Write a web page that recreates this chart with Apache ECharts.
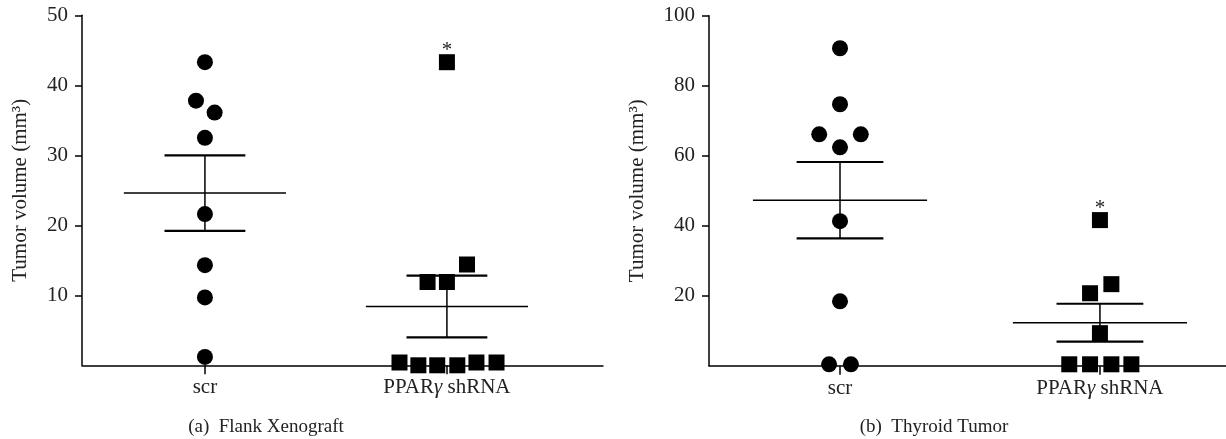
<!DOCTYPE html>
<html>
<head>
<meta charset="utf-8">
<script src="https://cdn.jsdelivr.net/npm/echarts@6/dist/echarts.min.js"></script>
<style>
html,body{margin:0;padding:0;background:#fff;}
#c{width:1226px;height:439px;}
</style>
</head>
<body>
<div id="c"></div>
<script>
// ---------- data ----------
const categories = ['scr', 'PPARγ shRNA'];
const yTitle = 'Tumor volume (mm³)';
const captions = ['(a)  Flank Xenograft', '(b)  Thyroid Tumor'];

// Panel (a) Flank Xenograft
const flankScr = [43.3, 37.8, 36.1, 32.5, 21.6, 14.3, 9.7, 1.2];
const flankScrJitter = [0, -0.037, 0.04, 0, 0, 0, 0, 0];
const flankPpar = [43.3, 14.4, 11.9, 11.9, 0.4, 0, 0, 0, 0.4, 0.4];
const flankPparJitter = [0, 0.083, -0.08, 0, -0.196, -0.118, -0.04, 0.043, 0.122, 0.205];
const flankMean = [24.6, 8.4];
const flankSem = [5.4, 4.4];
const flankYTicks = [10, 20, 30, 40, 50];

// Panel (b) Thyroid Tumor
const thyScr = [90.7, 74.7, 66.1, 66.1, 62.4, 41.3, 18.4, 0.4, 0.4];
const thyScrJitter = [0, 0, -0.08, 0.08, 0, 0, 0, -0.042, 0.042];
const thyPpar = [41.6, 23.3, 20.7, 9.3, 0.4, 0.4, 0.4, 0.4];
const thyPparJitter = [0, 0.044, -0.038, 0, -0.118, -0.038, 0.044, 0.121];
const thyMean = [47.3, 12.3];
const thySem = [10.9, 5.4];
const thyYTicks = [20, 40, 60, 80, 100];

const significant = [false, true]; // asterisk over the highest point of the group

// ---------- helpers ----------
const FONT = 'Liberation Serif';
const TXT = '#222';
function pts(vals, jit, cat, sig) {
  const maxV = Math.max(...vals);
  let marked = false;
  return vals.map((v, i) => {
    const item = { value: [cat + jit[i], v] };
    if (sig && !marked && v === maxV) {
      marked = true;
      item.label = { show: true, formatter: '*', position: 'top', distance: -7,
        fontFamily: FONT, fontSize: 21, color: TXT };
    }
    return item;
  });
}
function errData(mean, sem) {
  return mean.map((m, i) => [i, m, sem[i]]);
}
function renderErr(params, api) {
  const c = api.value(0), m = api.value(1), s = api.value(2);
  const meanHalf = 0.335, capHalf = 0.167;
  const p = (x, y) => api.coord([x, y]);
  const seg = (a, b, w) => ({ type: 'line', shape: { x1: a[0], y1: a[1], x2: b[0], y2: b[1] },
    style: { stroke: '#000', lineWidth: w } });
  return { type: 'group', children: [
    seg(p(c - meanHalf, m), p(c + meanHalf, m), 1.5),
    seg(p(c, m - s), p(c, m + s), 1.5),
    seg(p(c - capHalf, m + s), p(c + capHalf, m + s), 2.2),
    seg(p(c - capHalf, m - s), p(c + capHalf, m - s), 2.2)
  ]};
}
function xAxis(gi, min, max) {
  return {
    type: 'value', gridIndex: gi, min: min, max: max,
    axisLine: { show: true, onZero: false, lineStyle: { color: '#000', width: 1.5 } },
    axisTick: { show: true, customValues: [0, 1], length: 9, lineStyle: { color: '#000', width: 1.5 } },
    axisLabel: { show: true, customValues: [0, 1], margin: 12,
      formatter: v => v === 1 ? 'PPAR{i|γ} shRNA' : categories[v],
      fontFamily: FONT, fontSize: 21, color: TXT,
      rich: { i: { fontFamily: FONT, fontSize: 21, fontStyle: 'italic', color: TXT } } },
    splitLine: { show: false }
  };
}
function yAxis(gi, max, ticks, gap) {
  return {
    type: 'value', gridIndex: gi, min: 0, max: max, interval: ticks[0],
    name: yTitle, nameLocation: 'middle', nameGap: gap,
    nameTextStyle: { fontFamily: FONT, fontSize: 21, color: TXT },
    axisLine: { show: true, onZero: false, lineStyle: { color: '#000', width: 1.5 } },
    axisTick: { show: true, customValues: ticks, length: 7, lineStyle: { color: '#000', width: 1.5 } },
    axisLabel: { show: true, customValues: ticks, margin: 14,
      fontFamily: FONT, fontSize: 21, color: TXT },
    splitLine: { show: false }
  };
}
const circle = { type: 'scatter', symbol: 'circle', symbolSize: 16, itemStyle: { color: '#000', opacity: 1 }, z: 5 };
const square = { type: 'scatter', symbol: 'rect', symbolSize: 16, itemStyle: { color: '#000', opacity: 1 }, z: 5 };

const chart = echarts.init(document.getElementById('c'), null, { renderer: 'canvas' });
chart.setOption({
  backgroundColor: '#fff',
  animation: false,
  grid: [
    { left: 82, top: 15.3, width: 521, height: 350 },
    { left: 709, top: 15.7, width: 517, height: 350 }
  ],
  xAxis: [xAxis(0, -0.508, 1.645), xAxis(1, -0.504, 1.485)],
  yAxis: [yAxis(0, 50, flankYTicks, 51), yAxis(1, 100, thyYTicks, 61)],
  series: [
    { type: 'custom', xAxisIndex: 0, yAxisIndex: 0, renderItem: renderErr,
      data: errData(flankMean, flankSem), encode: { x: 0, y: 1 }, z: 2, clip: false },
    Object.assign({}, circle, { xAxisIndex: 0, yAxisIndex: 0, data: pts(flankScr, flankScrJitter, 0, significant[0]) }),
    Object.assign({}, square, { xAxisIndex: 0, yAxisIndex: 0, data: pts(flankPpar, flankPparJitter, 1, significant[1]) }),
    { type: 'custom', xAxisIndex: 1, yAxisIndex: 1, renderItem: renderErr,
      data: errData(thyMean, thySem), encode: { x: 0, y: 1 }, z: 2, clip: false },
    Object.assign({}, circle, { xAxisIndex: 1, yAxisIndex: 1, data: pts(thyScr, thyScrJitter, 0, significant[0]) }),
    Object.assign({}, square, { xAxisIndex: 1, yAxisIndex: 1, data: pts(thyPpar, thyPparJitter, 1, significant[1]) })
  ],
  graphic: [
    { type: 'text', x: 266, y: 427, style: { text: captions[0], fontFamily: FONT, fontSize: 19, fill: TXT, textAlign: 'center', textVerticalAlign: 'middle' } },
    { type: 'text', x: 934, y: 427, style: { text: captions[1], fontFamily: FONT, fontSize: 19, fill: TXT, textAlign: 'center', textVerticalAlign: 'middle' } }
  ]
});
</script>
</body>
</html>
